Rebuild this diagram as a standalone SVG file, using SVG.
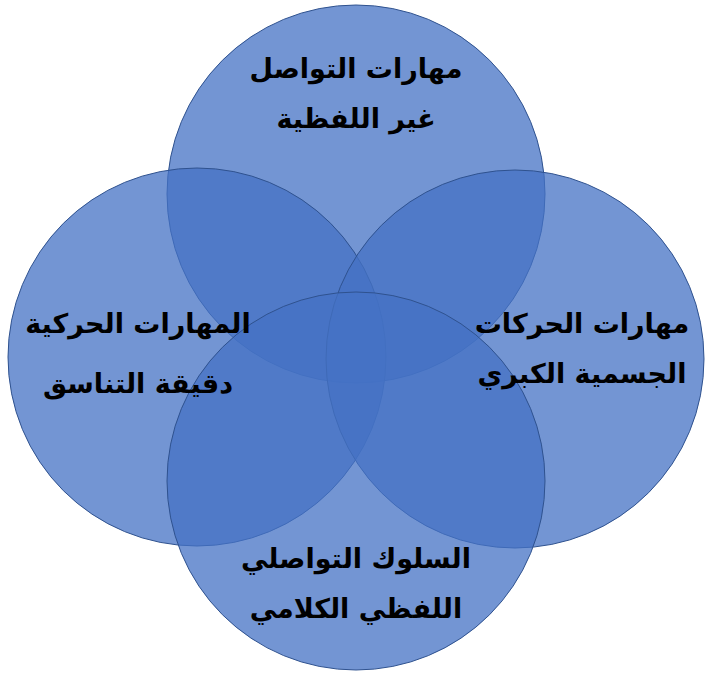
<svg xmlns="http://www.w3.org/2000/svg" width="714" height="679" viewBox="0 0 714 679">
<style>
.c{fill:#4472C4;fill-opacity:0.75;stroke:#2F528F;stroke-width:1}
.t{font-family:"DejaVu Sans","Liberation Sans",sans-serif;font-size:27px;font-weight:bold;fill:#000;text-anchor:middle;direction:rtl}
</style>
<rect width="714" height="679" fill="#fff"/>
<g id="top"><circle class="c" cx="356" cy="194" r="189"/></g>
<g id="left"><circle class="c" cx="197" cy="357" r="189"/></g>
<g id="right"><circle class="c" cx="515" cy="359" r="189"/></g>
<g id="bottom"><circle class="c" cx="356" cy="481" r="189"/></g>
<g id="labels">
<text class="t" x="356" y="78">مهارات التواصل</text>
<text class="t" x="356" y="128">غير اللفظية</text>
<text class="t" x="138" y="333">المهارات الحركية</text>
<text class="t" x="138" y="393">دقيقة التناسق</text>
<text class="t" x="582" y="333">مهارات الحركات</text>
<text class="t" x="582" y="383">الجسمية الكبري</text>
<text class="t" x="356" y="568">السلوك التواصلي</text>
<text class="t" x="356" y="618">اللفظي الكلامي</text>
</g>
<g id="connectors"></g>
</svg>
